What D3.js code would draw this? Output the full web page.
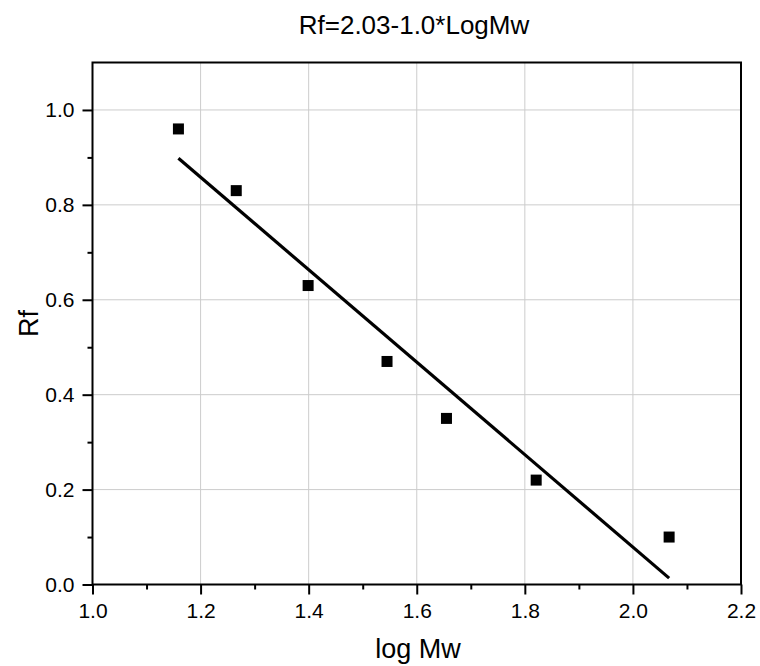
<!DOCTYPE html>
<html>
<head>
<meta charset="utf-8">
<script src="https://cdn.jsdelivr.net/npm/d3@7"></script>
<style>
  html, body { margin: 0; padding: 0; background: #fff; }
  text { font-family: "Liberation Sans", Arial, sans-serif; fill: #000; }
</style>
</head>
<body>
<svg id="chart" width="760" height="666"></svg>
<script>
// Data
const logMw = [1.159, 1.266, 1.399, 1.545, 1.655, 1.821, 2.067];
const rf = [0.96, 0.83, 0.63, 0.47, 0.35, 0.22, 0.10];
const xTicks = [1.0, 1.2, 1.4, 1.6, 1.8, 2.0, 2.2];
const yTicks = [0.0, 0.2, 0.4, 0.6, 0.8, 1.0];
const xMinorTicks = [1.1, 1.3, 1.5, 1.7, 1.9, 2.1];
const yMinorTicks = [0.1, 0.3, 0.5, 0.7, 0.9];
const titleText = "Rf=2.03-1.0*LogMw";
const xLabel = "log Mw";
const yLabel = "Rf";

(function () {
const svg = d3.select("#chart");
const pL = 92.5, pR = 741, pT = 62.5, pB = 584.5;

const x = d3.scaleLinear().domain([1.0, 2.2]).range([pL, pR]);
const y = d3.scaleLinear().domain([0, 1.1]).range([pB, pT]);

// Grid
const grid = svg.append("g").attr("stroke", "#cccccc").attr("stroke-width", 1);
xTicks.slice(1, -1).forEach(v => grid.append("line")
  .attr("x1", x(v)).attr("x2", x(v)).attr("y1", pT).attr("y2", pB));
yTicks.slice(1).forEach(v => grid.append("line")
  .attr("x1", pL).attr("x2", pR).attr("y1", y(v)).attr("y2", y(v)));

// Linear fit (least squares) from data
const mx = d3.mean(logMw), my = d3.mean(rf);
let sxy = 0, sxx = 0;
logMw.forEach((v, i) => { sxy += (v - mx) * (rf[i] - my); sxx += (v - mx) * (v - mx); });
const slope = sxy / sxx, intercept = my - slope * mx;
const xFit = d3.extent(logMw);
svg.append("line")
  .attr("x1", x(xFit[0])).attr("y1", y(intercept + slope * xFit[0]))
  .attr("x2", x(xFit[1])).attr("y2", y(intercept + slope * xFit[1]))
  .attr("stroke", "#000").attr("stroke-width", 3.2);

// Points
const ms = 11;
svg.append("g").selectAll("rect").data(logMw).join("rect")
  .attr("x", d => x(d) - ms / 2)
  .attr("y", (d, i) => y(rf[i]) - ms / 2)
  .attr("width", ms).attr("height", ms)
  .attr("fill", "#000");

// Axes
const xAxis = d3.axisBottom(x).tickValues(xTicks).tickFormat(d3.format(".1f"))
  .tickSize(10).tickPadding(9).tickSizeOuter(0);
const xMinor = d3.axisBottom(x).tickValues(xMinorTicks).tickFormat("").tickSize(5).tickSizeOuter(0);
const yAxis = d3.axisLeft(y).tickValues(yTicks).tickFormat(d3.format(".1f"))
  .tickSize(10).tickPadding(8).tickSizeOuter(0);
const yMinor = d3.axisLeft(y).tickValues(yMinorTicks).tickFormat("").tickSize(5).tickSizeOuter(0);

function style(g) {
  g.selectAll("path.domain").remove();
  g.selectAll("line").attr("stroke", "#000").attr("stroke-width", 2);
  g.selectAll("text").attr("font-size", 21).attr("fill", "#1a1a1a")
    .attr("font-family", "'Liberation Sans', Arial, sans-serif");
}
svg.append("g").attr("transform", `translate(0,${pB})`).call(xAxis).call(style);
svg.append("g").attr("transform", `translate(0,${pB})`).call(xMinor).call(style);
svg.append("g").attr("transform", `translate(${pL},0)`).call(yAxis).call(style);
svg.append("g").attr("transform", `translate(${pL},0)`).call(yMinor).call(style);

// Frame
svg.append("rect").attr("x", pL).attr("y", pT)
  .attr("width", pR - pL).attr("height", pB - pT)
  .attr("fill", "none").attr("stroke", "#000").attr("stroke-width", 2);

// Titles
svg.append("text").attr("x", 414).attr("y", 34).attr("text-anchor", "middle")
  .attr("font-size", 26).attr("fill", "#1a1a1a").text(titleText);
svg.append("text").attr("x", 418).attr("y", 658).attr("text-anchor", "middle")
  .attr("font-size", 27).attr("fill", "#1a1a1a").text(xLabel);
svg.append("text").attr("transform", `translate(38,${(pT + pB) / 2}) rotate(-90)`)
  .attr("text-anchor", "middle").attr("font-size", 27).attr("fill", "#1a1a1a").text(yLabel);
})();
</script>
</body>
</html>
